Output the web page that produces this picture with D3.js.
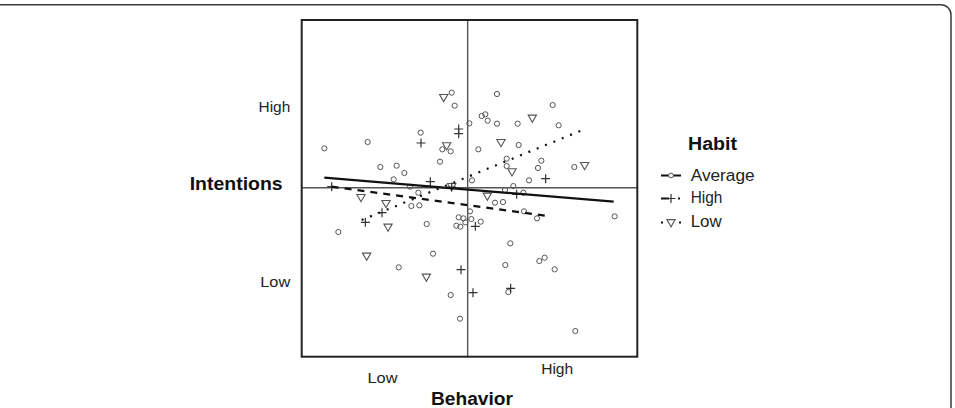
<!DOCTYPE html>
<html>
<head>
<meta charset="utf-8">
<script src="https://cdn.jsdelivr.net/npm/d3@7"></script>
<style>
  html, body { margin: 0; padding: 0; background: #fff; }
  svg { display: block; font-family: "Liberation Sans", Arial, sans-serif; }
</style>
</head>
<body>
<svg id="chart" width="955" height="408"></svg>
<script>
// ---------- DATA ----------
// Average habit (circles): [behavior, intentions]
const averageX = [-4.30,-3.00,-3.88,-2.62,-2.13,-1.90,-2.22,-1.41,-0.48,-0.39,-0.76,-0.51,-0.83,-1.48,-1.69,-1.45,-1.23,-1.04,-2.07,-0.51,-0.23,
  0.05,0.88,0.42,0.53,0.60,0.88,1.50,2.55,2.73,0.32,1.53,1.17,1.17,2.21,2.11,3.20,1.84,1.37,0.13,0.82,1.06,1.69,2.08,4.41,
  0.07,-0.27,-0.13,0.11,-0.07,-0.34,-0.22,0.39,1.28,1.13,2.15,2.31,2.61,1.22,3.23,1.12,1.67,-1.73];
const averageY = [1.18,1.37,-1.33,0.62,0.66,0.44,0.25,1.65,2.85,2.46,1.15,1.09,0.78,-0.15,-0.55,-0.53,-1.09,-1.98,-2.39,-3.22,-3.93,
  1.93,2.81,2.15,2.20,2.01,1.92,1.92,2.48,1.87,1.15,1.28,0.87,0.65,0.81,0.59,0.62,0.22,0.05,0.22,-0.45,-0.43,-0.71,-0.92,-0.86,
  -0.71,-0.89,-0.92,-0.94,-1.04,-1.14,-1.17,-1.02,-1.67,-2.32,-2.20,-2.10,-2.45,-3.13,-4.30,-0.07,-0.15,0.03];
// High habit (plus signs)
const highX = [-4.08,-3.07,-2.57,-1.40,-1.12,-0.27,-0.27,0.23,-0.20,0.16,1.29,2.34,1.47,-0.48];
const highY = [0.03,-1.04,-0.75,1.34,0.18,1.76,1.62,-1.16,-2.46,-3.15,-3.02,0.27,-0.20,0.02];
// Low habit (triangles)
const lowX = [-0.72,-0.63,1.00,1.94,3.51,1.33,-3.20,-2.45,-2.39,-3.03,-1.24,0.59,-0.48];
const lowY = [2.71,1.26,1.36,2.09,0.67,0.48,-0.29,-0.47,-1.18,-2.05,-2.68,-0.25,0.04];
// Fitted regression lines: [x at start, x at end], [y at start, y at end]
const groups = ["Average", "High", "Low"];
const fitX = [[-4.30, 4.38], [-4.08, 2.34], [-3.18, 3.45]];
const fitY = [[0.30, -0.42], [0.03, -0.84], [-0.97, 1.73]];
// Axis tick labels
const yTickValues = [2.42, -2.83];
const yTickLabels = ["High", "Low"];
const xTickValues = [-2.57, 2.67];
const xTickLabels = ["Low", "High"];
const xDomain = [-4.98, 5.09];
const yDomain = [-5.07, 5.03];

// ---------- DRAW ----------
const svg = d3.select("#chart");

// outer rounded frame
svg.append("rect")
  .attr("x", -20).attr("y", 4.75).attr("width", 971).attr("height", 460)
  .attr("rx", 10).attr("fill", "none").attr("stroke", "#3a3a3a").attr("stroke-width", 1.5);

const x = d3.scaleLinear().domain(xDomain).range([301.7, 637.3]);
const y = d3.scaleLinear().domain(yDomain).range([356.7, 20]);

// center lines
svg.append("line").attr("x1", x(0)).attr("x2", x(0)).attr("y1", y(yDomain[0])).attr("y2", y(yDomain[1]))
  .attr("stroke", "#555").attr("stroke-width", 1.4);
svg.append("line").attr("x1", x(xDomain[0])).attr("x2", x(xDomain[1])).attr("y1", y(0)).attr("y2", y(0))
  .attr("stroke", "#555").attr("stroke-width", 1.4);

const gPts = svg.append("g");
// circles
gPts.selectAll("circle.avg").data(averageX.map((d, i) => [d, averageY[i]])).join("circle")
  .attr("class", "avg")
  .attr("cx", d => x(d[0])).attr("cy", d => y(d[1])).attr("r", 2.6)
  .attr("fill", "none").attr("stroke", "#555").attr("stroke-width", 1);
// triangles
const tri = d3.symbol().type(d3.symbolTriangle).size(30);
gPts.selectAll("path.low").data(lowX.map((d, i) => [d, lowY[i]])).join("path")
  .attr("class", "low")
  .attr("d", tri)
  .attr("transform", d => `translate(${x(d[0])},${y(d[1]) - 0.5}) rotate(180)`)
  .attr("fill", "none").attr("stroke", "#555").attr("stroke-width", 1.1);
// plus signs
const plusPath = "M-4.5,0H4.5M0,-4.5V4.5";
gPts.selectAll("path.high").data(highX.map((d, i) => [d, highY[i]])).join("path")
  .attr("class", "high")
  .attr("d", plusPath)
  .attr("transform", d => `translate(${x(d[0])},${y(d[1])})`)
  .attr("fill", "none").attr("stroke", "#333").attr("stroke-width", 1.2);

// fit lines
const lineStyles = [
  { dash: null, width: 2.2, color: "#111" },
  { dash: "7,6", width: 2.2, color: "#111" },
  { dash: "2,7", width: 2.2, color: "#111" }
];
groups.forEach((g, i) => {
  const l = svg.append("line")
    .attr("x1", x(fitX[i][0])).attr("y1", y(fitY[i][0]))
    .attr("x2", x(fitX[i][1])).attr("y2", y(fitY[i][1]))
    .attr("stroke", lineStyles[i].color).attr("stroke-width", lineStyles[i].width);
  if (lineStyles[i].dash) l.attr("stroke-dasharray", lineStyles[i].dash);
});

// plot frame
svg.append("rect")
  .attr("x", x(xDomain[0])).attr("y", y(yDomain[1]))
  .attr("width", x(xDomain[1]) - x(xDomain[0])).attr("height", y(yDomain[0]) - y(yDomain[1]))
  .attr("fill", "none").attr("stroke", "#222").attr("stroke-width", 2);

// axes (labels only)
const yAxis = svg.append("g").attr("transform", `translate(${x(xDomain[0])},0)`)
  .call(d3.axisLeft(y).tickValues(yTickValues).tickFormat((d, i) => yTickLabels[i]).tickSize(0).tickPadding(11.5));
yAxis.select(".domain").remove();
yAxis.selectAll("text").attr("font-size", 15.5).attr("fill", "#222")
  .attr("font-family", "Liberation Sans, Arial, sans-serif")
  .attr("textLength", (d, i) => [31.7, 30][i]).attr("lengthAdjust", "spacingAndGlyphs");

const xAxis = svg.append("g").attr("transform", `translate(0,${y(yDomain[0])})`)
  .call(d3.axisBottom(x).tickValues(xTickValues).tickFormat((d, i) => xTickLabels[i]).tickSize(0));
xAxis.select(".domain").remove();
xAxis.selectAll("text").attr("font-size", 15.5).attr("fill", "#222")
  .attr("font-family", "Liberation Sans, Arial, sans-serif")
  .attr("dy", 0).attr("y", (d, i) => [26.5, 17.5][i])
  .attr("textLength", (d, i) => [30, 32][i]).attr("lengthAdjust", "spacingAndGlyphs");

// axis titles
svg.append("text").attr("x", 282.7).attr("y", 190).attr("text-anchor", "end")
  .attr("font-size", 18).attr("font-weight", "bold").attr("fill", "#111")
  .attr("textLength", 93).attr("lengthAdjust", "spacingAndGlyphs").text("Intentions");
svg.append("text").attr("x", 431).attr("y", 405).attr("text-anchor", "start")
  .attr("font-size", 18).attr("font-weight", "bold").attr("fill", "#111")
  .attr("textLength", 82).attr("lengthAdjust", "spacingAndGlyphs").text("Behavior");

// legend
const leg = svg.append("g");
leg.append("text").attr("x", 688).attr("y", 150).attr("font-size", 18).attr("font-weight", "bold")
  .attr("fill", "#111").attr("textLength", 49).attr("lengthAdjust", "spacingAndGlyphs").text("Habit");
const legSymY = [175.5, 198.5, 222.5];
const legTextY = [181, 203, 227];
const legTextW = [64, 31.7, 31];
const legDash = [null, "8,9,2", "2,7"];
groups.forEach((g, i) => {
  const l = leg.append("line").attr("x1", 661).attr("x2", 681).attr("y1", legSymY[i]).attr("y2", legSymY[i])
    .attr("stroke", "#111").attr("stroke-width", 2);
  if (legDash[i]) l.attr("stroke-dasharray", legDash[i]);
  if (i === 0) {
    leg.append("circle").attr("cx", 671).attr("cy", legSymY[i]).attr("r", 2.4)
      .attr("fill", "#fff").attr("stroke", "#555").attr("stroke-width", 1);
  } else if (i === 1) {
    leg.append("path").attr("d", plusPath).attr("transform", `translate(671,${legSymY[i]})`)
      .attr("stroke", "#333").attr("stroke-width", 1.2);
  } else {
    leg.append("path").attr("d", tri).attr("transform", `translate(671,${legSymY[i] - 0.5}) rotate(180)`)
      .attr("fill", "#fff").attr("stroke", "#555").attr("stroke-width", 1.1);
  }
  leg.append("text").attr("x", 690.7).attr("y", legTextY[i]).attr("font-size", 16).attr("fill", "#222")
    .attr("textLength", legTextW[i]).attr("lengthAdjust", "spacingAndGlyphs").text(g);
});
</script>
</body>
</html>
